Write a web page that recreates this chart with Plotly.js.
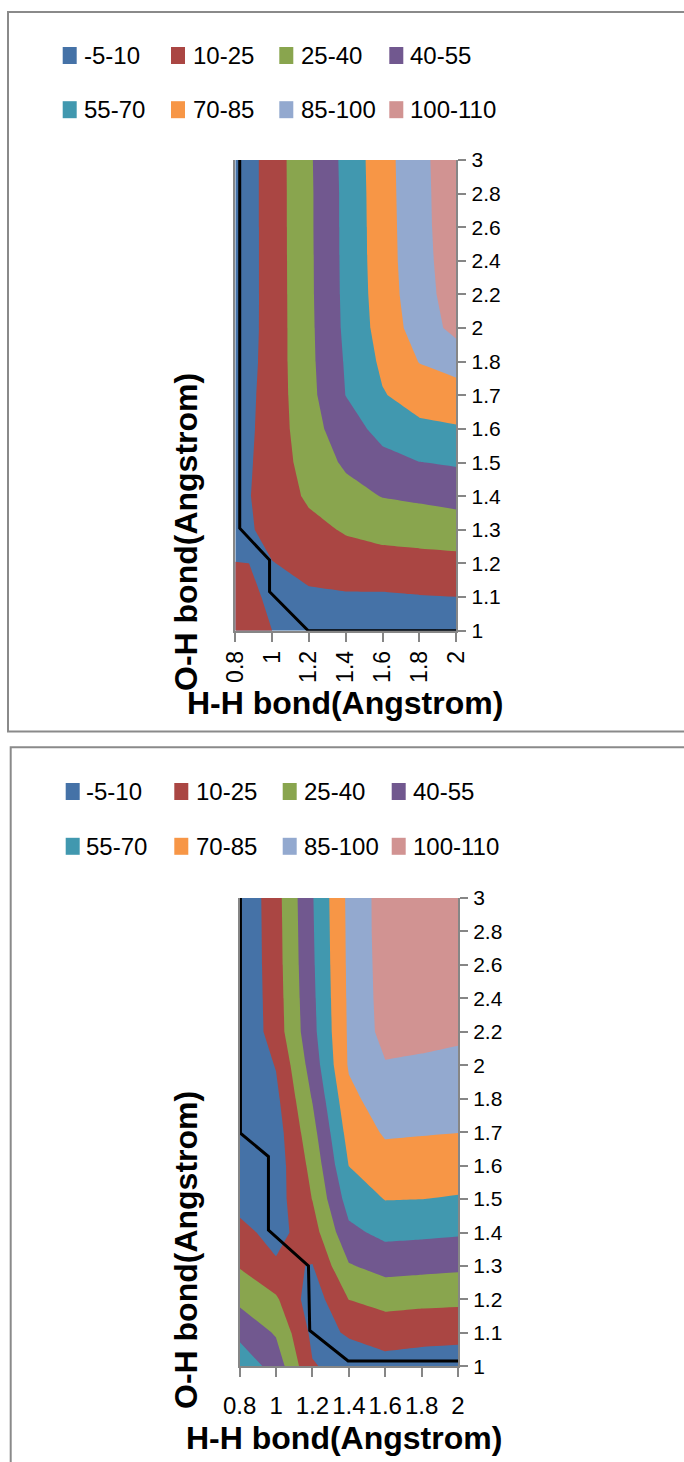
<!DOCTYPE html>
<html>
<head>
<meta charset="utf-8">
<script src="https://cdn.plot.ly/plotly-3.0.1.min.js"></script>
<style>
html,body{margin:0;padding:0;background:#ffffff;}
#chart{width:684px;height:1462px;}
</style>
</head>
<body>
<div id="chart"></div>
<script>
// ---------------- DATA ----------------
// H-H bond (Angstrom) – x axis values
const hhBond = [0.8, 1.0, 1.2, 1.4, 1.6, 1.8, 2.0];
const hhTickText = ['0.8', '1', '1.2', '1.4', '1.6', '1.8', '2'];
// O-H bond (Angstrom) – y axis categories (evenly spaced, as in the original chart)
const ohBond = ['1', '1.1', '1.2', '1.3', '1.4', '1.5', '1.6', '1.7', '1.8', '2', '2.2', '2.4', '2.6', '2.8', '3'];
// contour bands
const bandNames = ['-5-10', '10-25', '25-40', '40-55', '55-70', '70-85', '85-100', '100-110'];
const bandColors = ['#4572A7', '#AA4643', '#89A54E', '#71588F', '#4198AF', '#F79646', '#93A9CF', '#D19392'];
const levelStart = 10, levelEnd = 100, levelStep = 15;

// Energy, top chart: one row per O-H value (1 ... 3), one column per H-H value (0.8 ... 2)
const energyTop = [
  [17.0, 10.0, 4.0, 3.0, 2.0, 2.0, 2.0],
  [17.3, 7.0, 8.0, 8.5, 8.3, 9.3, 9.9],
  [10.3, 9.5, 14.2, 17.5, 19.1, 20.1, 20.7],
  [4.4, 15.0, 20.4, 26.5, 29.9, 31.1, 32.6],
  [5.9, 15.5, 27.5, 34.8, 40.5, 42.5, 44.8],
  [3.8, 16.7, 31.0, 42.3, 50.4, 54.7, 56.5],
  [2.3, 16.7, 34.0, 48.4, 59.8, 66.8, 68.6],
  [1.0, 16.8, 35.5, 55.2, 69.0, 76.3, 78.9],
  [-1.0, 16.8, 36.4, 56.4, 72.8, 85.5, 90.5],
  [-2.0, 16.7, 36.7, 57.9, 76.0, 91.7, 104.5],
  [-2.0, 16.6, 37.1, 58.4, 77.4, 93.9, 107.0],
  [-2.0, 16.7, 37.2, 58.7, 78.1, 94.9, 108.0],
  [-2.0, 16.7, 37.4, 58.8, 78.4, 95.3, 109.0],
  [-2.0, 16.8, 37.4, 58.9, 78.8, 95.5, 109.5],
  [-2.0, 16.8, 37.7, 59.4, 79.1, 95.8, 110.0]
];

// Energy, bottom chart
const energyBottom = [
  [65.0, 49.0, 11.0, 5.0, 4.6, 2.8, 1.8],
  [51.2, 38.5, 6.5, 11.0, 16.6, 15.3, 14.6],
  [36.6, 27.1, 2.0, 25.2, 29.9, 28.6, 28.0],
  [23.9, 12.0, 9.5, 38.8, 45.1, 44.0, 42.8],
  [14.3, 5.0, 18.5, 51.4, 58.8, 57.9, 56.7],
  [4.7, 3.7, 25.4, 61.4, 70.5, 70.1, 68.9],
  [0.0, 2.6, 29.5, 70.2, 78.9, 78.2, 77.3],
  [-2.0, 3.4, 35.0, 75.7, 86.7, 85.9, 85.2],
  [-3.0, 6.6, 40.8, 81.1, 92.8, 91.9, 90.9],
  [-4.0, 10.8, 46.6, 86.5, 99.0, 97.9, 96.6],
  [-4.0, 17.4, 50.7, 87.1, 105.1, 103.9, 102.4],
  [-4.0, 18.1, 51.8, 87.5, 106.0, 105.0, 106.0],
  [-4.0, 18.8, 52.8, 87.9, 106.5, 106.0, 107.5],
  [-4.0, 19.2, 53.5, 88.2, 107.0, 107.0, 108.5],
  [-4.0, 19.6, 54.1, 88.5, 107.0, 108.0, 109.0]
];

// Reaction paths (black lines): H-H value, O-H category position (0 = '1', 14 = '3')
const pathTopHH = [0.824, 0.824, 0.986, 0.986, 1.196, 2.0];
const pathTopOH = [14, 3.05, 2.1, 1.16, 0, 0];
const pathBottomHH = [0.804, 0.804, 0.958, 0.958, 1.178, 1.185, 1.396, 2.0];
const pathBottomOH = [14, 6.97, 6.27, 4.07, 3.0, 1.07, 0.16, 0.16];

const xTitle = 'H-H bond(Angstrom)';
const yTitle = 'O-H bond(Angstrom)';

// ---------------- LAYOUT HELPERS ----------------
const W = 684, H = 1462;
const px = p => p / W;
const py = p => 1 - p / H;
const FONT = 'Liberation Sans, Arial, sans-serif';
const AXIS_GREY = '#868686';

const ohIndex = ohBond.map((_, i) => i);
const nLevels = Math.round((levelEnd - levelStart) / levelStep) + 1;
const colorscale = bandColors.map((c, i) => [i / nLevels, c]);

function contourTrace(z, xa, ya) {
  return {
    type: 'contour', x: hhBond, y: ohIndex, z: z,
    xaxis: xa, yaxis: ya,
    autocontour: false,
    contours: {start: levelStart, end: levelEnd, size: levelStep, coloring: 'fill', showlines: false},
    colorscale: colorscale, showscale: false,
    line: {width: 0, smoothing: 0},
    hoverinfo: 'skip', showlegend: false
  };
}
function pathTrace(xs, ys, xa, ya) {
  return {type: 'scatter', mode: 'lines', x: xs, y: ys, xaxis: xa, yaxis: ya,
    line: {color: '#000000', width: 3}, hoverinfo: 'skip', showlegend: false};
}

const traces = [
  contourTrace(energyTop, 'x', 'y'),
  pathTrace(pathTopHH, pathTopOH, 'x', 'y'),
  contourTrace(energyBottom, 'x2', 'y2'),
  pathTrace(pathBottomHH, pathBottomOH, 'x2', 'y2')
];

function xAxis(domain, yAnchor, angle, standoff, size) {
  return {
    domain: domain, anchor: yAnchor, range: [hhBond[0], hhBond[hhBond.length - 1]],
    tickmode: 'array', tickvals: hhBond, ticktext: hhTickText, tickangle: angle,
    ticks: 'outside', ticklen: 9, tickwidth: 2, tickcolor: AXIS_GREY,
    showline: true, linecolor: AXIS_GREY, linewidth: 2,
    showgrid: false, zeroline: false, ticklabelstandoff: standoff,
    tickfont: {family: FONT, size: size, color: '#000'}
  };
}
function yAxis(domain, xAnchor) {
  return {
    domain: domain, anchor: xAnchor, side: 'right', range: [0, ohBond.length - 1],
    tickmode: 'array', tickvals: ohIndex, ticktext: ohBond,
    ticks: 'outside', ticklen: 8, tickwidth: 2, tickcolor: AXIS_GREY,
    showline: true, mirror: true, linecolor: AXIS_GREY, linewidth: 2,
    showgrid: false, zeroline: false, ticklabelstandoff: 1,
    tickfont: {family: FONT, size: 21, color: '#000'}
  };
}

// panel geometry (pixels)
const panels = [
  {plot: [235.3, 456.3, 160, 630.7], frame: [8, 12, 700, 731.5],
   legendSq: [62.7, 171, 279.3, 389.3], legendTx: [82, 191, 299.3, 407.6], legendRows: [55.5, 109.7],
   xTitleAt: [345, 703], yTitleAt: [186, 532]},
  {plot: [239.7, 458, 898, 1366.3], frame: [10.7, 747.3, 700, 1480],
   legendSq: [65.7, 174.3, 282.7, 391.7], legendTx: [84.3, 193.6, 302, 411], legendRows: [791.5, 846.3],
   xTitleAt: [344, 1438], yTitleAt: [186, 1250]}
];

const shapes = [];
const annotations = [];
panels.forEach(p => {
  const f = p.frame;
  shapes.push({type: 'rect', xref: 'paper', yref: 'paper', x0: px(f[0]), x1: px(f[2]), y0: py(f[1]), y1: py(f[3]),
    line: {color: '#8a8a8a', width: 2}, fillcolor: 'rgba(0,0,0,0)', layer: 'below'});
  bandNames.forEach((name, i) => {
    const col = i % 4, row = Math.floor(i / 4);
    const cy = p.legendRows[row];
    shapes.push({type: 'rect', xref: 'paper', yref: 'paper',
      x0: px(p.legendSq[col]), x1: px(p.legendSq[col] + 14), y0: py(cy - 8.5), y1: py(cy + 8.5),
      line: {width: 0}, fillcolor: bandColors[i]});
    annotations.push({xref: 'paper', yref: 'paper', x: px(p.legendTx[col]), y: py(cy),
      xanchor: 'left', yanchor: 'middle', showarrow: false, text: name,
      font: {family: FONT, size: 24, color: '#000'}});
  });
  annotations.push({xref: 'paper', yref: 'paper', x: px(p.xTitleAt[0]), y: py(p.xTitleAt[1]),
    xanchor: 'center', yanchor: 'middle', showarrow: false, text: '<b>' + xTitle + '</b>',
    font: {family: FONT, size: 32, color: '#000'}});
  annotations.push({xref: 'paper', yref: 'paper', x: px(p.yTitleAt[0]), y: py(p.yTitleAt[1]),
    xanchor: 'center', yanchor: 'middle', showarrow: false, textangle: -90, text: '<b>' + yTitle + '</b>',
    font: {family: FONT, size: 32, color: '#000'}});
});

const P1 = panels[0].plot, P2 = panels[1].plot;
const layout = {
  width: W, height: H,
  margin: {l: 0, r: 0, t: 0, b: 0, pad: 0},
  paper_bgcolor: '#ffffff', plot_bgcolor: '#ffffff',
  showlegend: false,
  xaxis: xAxis([px(P1[0]), px(P1[1])], 'y', -90, 0, 23),
  yaxis: yAxis([py(P1[3]), py(P1[2])], 'x'),
  xaxis2: xAxis([px(P2[0]), px(P2[1])], 'y2', 0, 8, 24),
  yaxis2: yAxis([py(P2[3]), py(P2[2])], 'x2'),
  shapes: shapes,
  annotations: annotations
};

Plotly.newPlot('chart', traces, layout, {staticPlot: true, displayModeBar: false});
</script>
</body>
</html>
